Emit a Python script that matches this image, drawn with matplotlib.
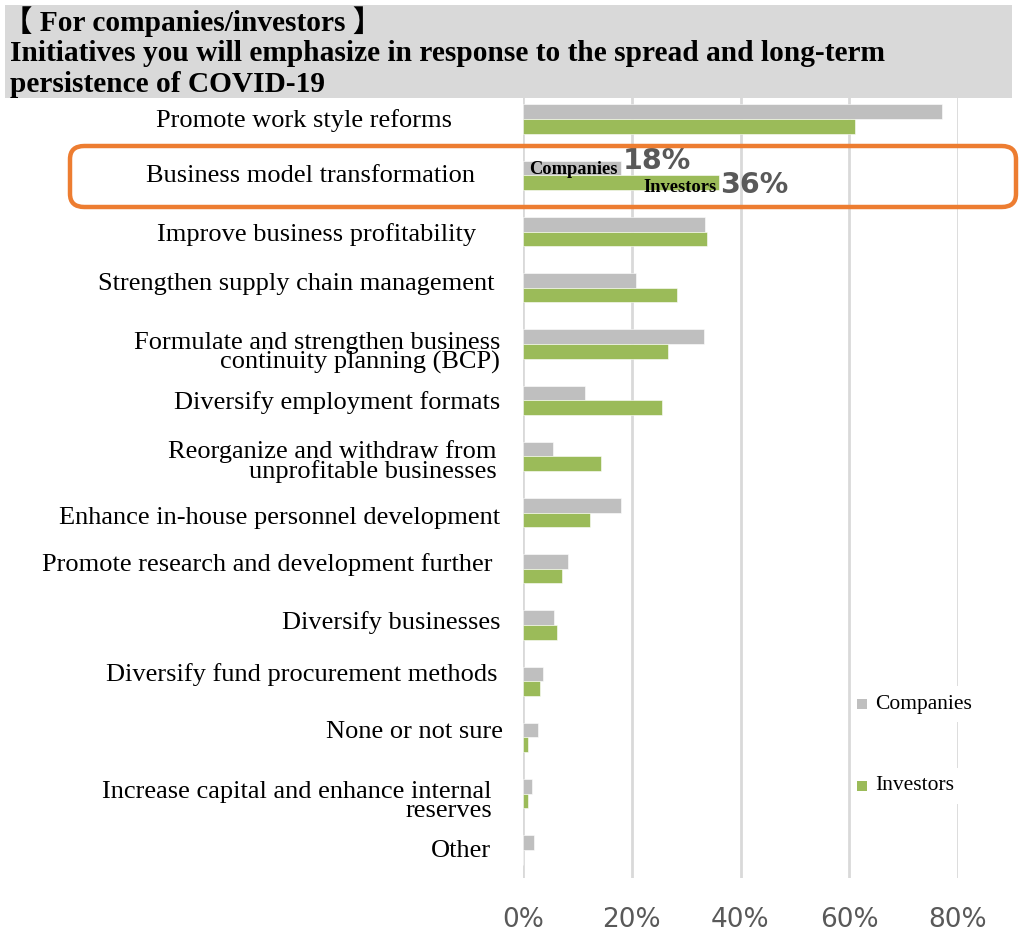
import matplotlib
matplotlib.use("Agg")
import matplotlib.pyplot as plt
import matplotlib.transforms as mtransforms
from matplotlib.patches import Rectangle, FancyBboxPatch
import numpy as np

# ---- data ----
categories = [
    "Promote work style reforms",
    "Business model transformation",
    "Improve business profitability",
    "Strengthen supply chain management",
    "Formulate and strengthen business\ncontinuity planning (BCP)",
    "Diversify employment formats",
    "Reorganize and withdraw from\nunprofitable businesses",
    "Enhance in-house personnel development",
    "Promote research and development further",
    "Diversify businesses",
    "Diversify fund procurement methods",
    "None or not sure",
    "Increase capital and enhance internal\nreserves",
    "Other",
]
companies = [77.1, 18.0, 33.4, 20.7, 33.2, 11.4, 5.5, 18.0, 8.3, 5.7, 3.6, 2.7, 1.7, 2.1]
investors = [61.1, 36.0, 33.8, 28.4, 26.6, 25.5, 14.3, 12.3, 7.1, 6.2, 3.1, 1.0, 1.0, 0.0]
xticks = [0, 20, 40, 60, 80]
xtick_labels = ["0%", "20%", "40%", "60%", "80%"]
series_names = ["Companies", "Investors"]
title_lines = [
    "\u3010 For companies/investors \u3011",
    "Initiatives you will emphasize in response to the spread and long-term",
    "persistence of COVID-19",
]
highlight_index = 1

# ---- style ----
GRAY = "#BFBFBF"
GREEN = "#9BBB59"
GRID = "#D9D9D9"
ORANGE = "#ED7D31"
TICK = "#595959"
SERIF = ["Liberation Serif", "Noto Sans CJK JP", "DejaVu Serif"]

W, H = 1019, 936
fig = plt.figure(figsize=(W / 100, H / 100), dpi=100)

def fx(px):
    return px / W

def fy(py):
    return 1 - py / H

# axes: 0% at x=523, 80% at x=958; rows from y=91 to y=878
ax = fig.add_axes([fx(523), fy(878), fx(958) - fx(523), (878 - 91) / H])
n = len(categories)
row_px = (878 - 91) / n
y = np.arange(n)
bh = 0.26
ax.barh(y - bh / 2, companies, height=bh, color=GRAY, edgecolor="white", linewidth=0.4, zorder=3)
ax.barh(y + bh / 2, investors, height=bh, color=GREEN, edgecolor="white", linewidth=0.4, zorder=3)
ax.set_xlim(0, 80)
ax.set_ylim(n - 0.5, -0.5)
ax.set_xticks(xticks)
ax.set_xticklabels(xtick_labels, color=TICK, fontsize=19, family="DejaVu Sans")
ax.tick_params(axis="x", length=0, pad=21)
ax.set_yticks([])
for s in ax.spines.values():
    s.set_visible(False)
ax.grid(axis="x", color=GRID, linewidth=2.0, zorder=0)
ax.set_axisbelow(True)

# category labels, right-aligned to the left of the bars (text-box placement in pixels)
label_right = [452, 475, 476, 494, 500, 500, 497, 500, 493, 500, 498, 503, 492, 491]
label_shift = [1, 1, 3, -4, 9, 2, 5, 5, -4, -3, -7, -5, 8, 1]
lt = mtransforms.blended_transform_factory(fig.transFigure, ax.transData)
for i, (lab, xr, dy) in enumerate(zip(categories, label_right, label_shift)):
    ax.text(fx(xr), i + dy / row_px, lab, transform=lt, ha="right", va="center",
            fontsize=19, family=SERIF, color="black", linespacing=0.86, clip_on=False)

# in-bar annotations for the highlighted row
hi = highlight_index
ax.text(1.2, hi - bh / 2 + 0.02, series_names[0], ha="left", va="center", fontsize=13.3,
        fontweight="bold", family=SERIF, zorder=5)
ax.text(companies[hi] + 0.3, hi - bh / 2 - 0.12, f"{companies[hi]:.0f}%", ha="left", va="center",
        fontsize=20.5, fontweight="bold", color=TICK, family="DejaVu Sans", zorder=5)
ax.text(investors[hi] - 0.3, hi + bh / 2 + 0.08, series_names[1], ha="right", va="center",
        fontsize=13.3, fontweight="bold", family=SERIF, zorder=5)
ax.text(investors[hi] + 0.2, hi + bh / 2 + 0.04, f"{investors[hi]:.0f}%", ha="left", va="center",
        fontsize=20.5, fontweight="bold", color=TICK, family="DejaVu Sans", zorder=5)

# orange rounded frame around the highlighted row
frame = FancyBboxPatch((fx(70), fy(207)), fx(1016) - fx(70), (207 - 146) / H,
                       boxstyle="round,pad=0,rounding_size=0.014",
                       transform=fig.transFigure, fill=False, edgecolor=ORANGE,
                       linewidth=3.2, zorder=6)
fig.patches.append(frame)

# title band
band = Rectangle((fx(5), fy(98)), fx(1012) - fx(5), (98 - 5) / H, transform=fig.transFigure,
                 facecolor="#D9D9D9", edgecolor="none", zorder=4)
fig.patches.append(band)
title_x = [3, 10, 10]
for k, line in enumerate(title_lines):
    fig.text(fx(title_x[k]), fy(22 + 31.5 * k), line, ha="left", va="center", fontsize=21.2,
             fontweight="bold", family=SERIF, zorder=7)

# legend entries with white backing
for name, col, py in [(series_names[0], GRAY, 704), (series_names[1], GREEN, 786)]:
    fig.patches.append(Rectangle((fx(857), fy(py + 5)), fx(10), 10 / H, transform=fig.transFigure,
                                 facecolor=col, edgecolor="none", zorder=8))
    fig.text(fx(875), fy(py), name, ha="left", va="center", fontsize=15.5, family=SERIF, zorder=8,
             bbox=dict(facecolor="white", edgecolor="none", pad=6))

fig.savefig("out.png", dpi=100)
